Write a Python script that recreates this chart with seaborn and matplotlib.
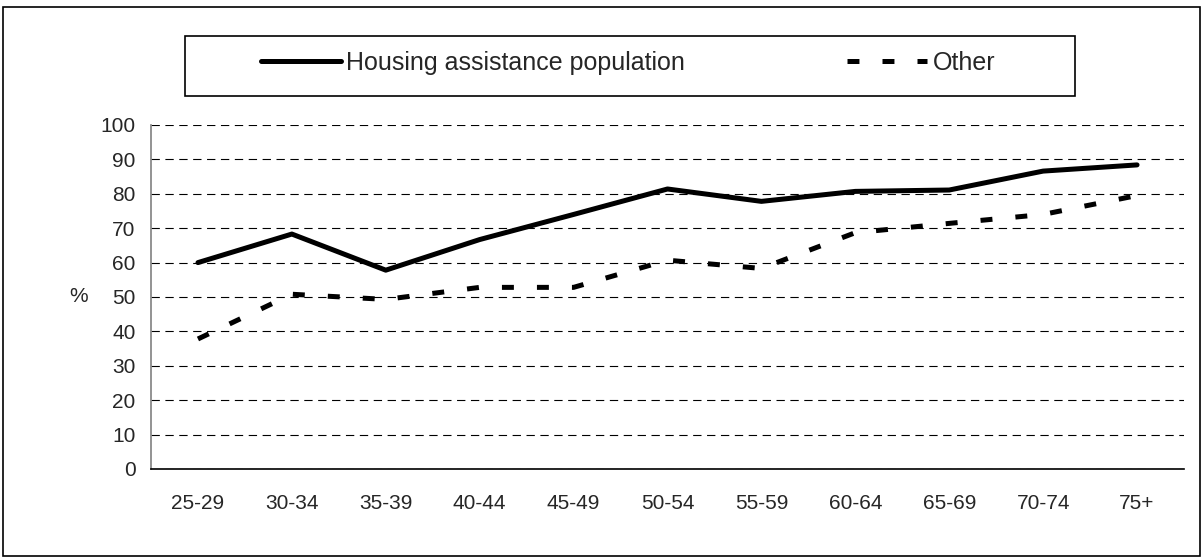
import matplotlib
matplotlib.use("Agg")
import matplotlib.pyplot as plt
import matplotlib.patches as mpatches
import pandas as pd
import seaborn as sns

# age groups and % values
age_groups = ["25-29", "30-34", "35-39", "40-44", "45-49", "50-54",
              "55-59", "60-64", "65-69", "70-74", "75+"]
housing = [60.0, 68.3, 57.8, 66.7, 74.0, 81.4, 77.8, 80.7, 81.1, 86.6, 88.4]
other = [37.8, 50.8, 49.3, 52.8, 52.8, 60.7, 58.3, 68.7, 71.4, 74.0, 79.5]
yticks = list(range(0, 101, 10))

sns.set_style("white")
plt.rcParams["font.family"] = ["Liberation Sans", "DejaVu Sans"]
plt.rcParams["lines.scale_dashes"] = False

df = pd.DataFrame({
    "age": age_groups * 2,
    "value": housing + other,
    "series": ["Housing assistance population"] * len(age_groups) + ["Other"] * len(age_groups),
})

W, H = 1204, 558
fig = plt.figure(figsize=(W / 100, H / 100), dpi=100)
ax = fig.add_axes([151 / W, 1 - 469 / H, (1184 - 151) / W, (469 - 125) / H])

sns.lineplot(data=df, x="age", y="value", style="series",
             dashes={"Housing assistance population": "", "Other": (8.6, 16.6)},
             color="black", linewidth=3.6, ax=ax, legend=False)

ax.set_xlim(-0.5, len(age_groups) - 0.5)
ax.set_ylim(0, 100)
ax.set_yticks(yticks)
ax.set_yticklabels([str(v) for v in yticks], fontsize=15)

# labels in the middle of each category, ticks on the boundaries
ax.set_xticks(range(len(age_groups)))
ax.set_xticklabels(age_groups, fontsize=15)
ax.set_xticks([i - 0.5 for i in range(len(age_groups) + 1)], minor=True)
ax.tick_params(axis="x", which="major", length=0, pad=18)
ax.tick_params(axis="x", which="minor", length=5, width=1, color="black", direction="out")
ax.tick_params(axis="y", length=5, width=1, color="#808080", direction="out", pad=6)

ax.yaxis.grid(True, linestyle=(0, (6, 4)), color="black", linewidth=0.8)
ax.set_axisbelow(True)
for s in ["top", "right"]:
    ax.spines[s].set_visible(False)
ax.spines["left"].set_color("#808080")
ax.spines["left"].set_linewidth(1.2)
ax.spines["bottom"].set_color("black")
ax.spines["bottom"].set_linewidth(1.2)

ax.set_xlabel("")
ax.set_ylabel("%", rotation=0, fontsize=15, va="center", ha="center")
ax.yaxis.set_label_coords((79 - 151) / (1184 - 151), 0.5)

# legend inside its own box above the plot
handles = ax.get_lines()[:2]
fig.legend(handles, ["Housing assistance population", "Other"], ncol=2,
           loc="center", bbox_to_anchor=(628 / W, 1 - 63 / H),
           frameon=False, fontsize=18, handlelength=3.2, handletextpad=0.2,
           columnspacing=6.5)
fig.patches.append(mpatches.Rectangle((185 / W, 1 - 96 / H), (1075 - 185) / W, 60 / H,
                                      transform=fig.transFigure, fill=False,
                                      edgecolor="black", linewidth=1.2))
fig.patches.append(mpatches.Rectangle((3 / W, 2 / H), (1200 - 3) / W, (556 - 7) / H,
                                      transform=fig.transFigure, fill=False,
                                      edgecolor="black", linewidth=1.2))

fig.savefig("out.png", dpi=100)
